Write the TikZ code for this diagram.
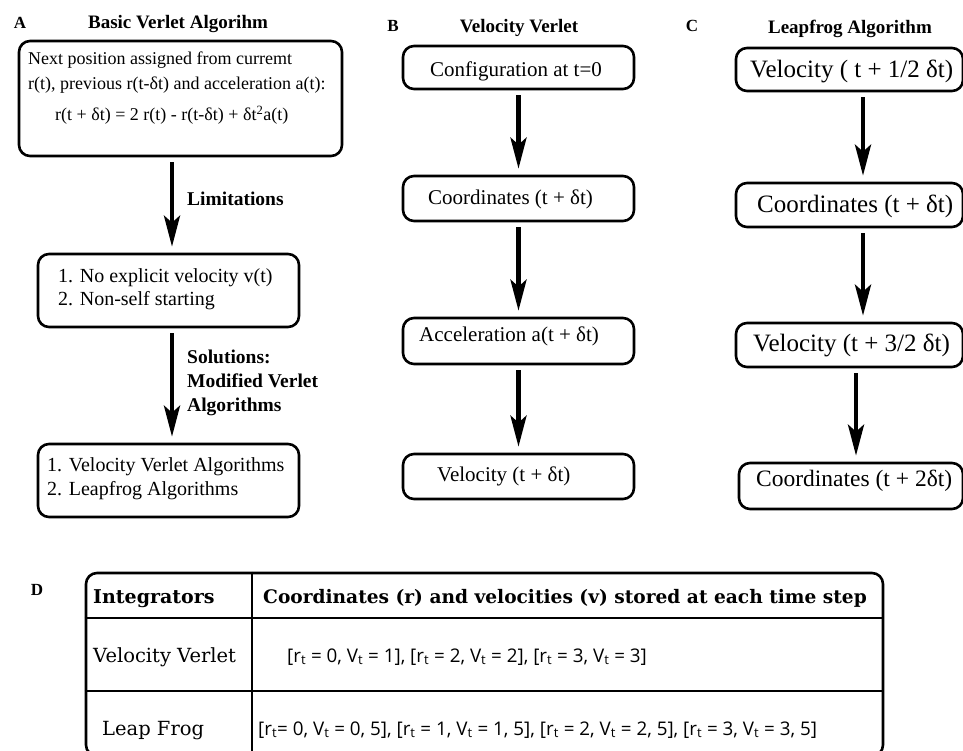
\documentclass[tikz,border=0pt]{standalone}
\usepackage{fontspec}
\setmainfont{Liberation Serif}
\newfontfamily\tabfont{DejaVu Serif}
\newfontfamily\datafont{Open Sans}
\usetikzlibrary{arrows.meta}
\newcommand\fsz[1]{\fontsize{#1}{#1}\selectfont}
\newcommand\rsub{r\textsubscript{t}}
\newcommand\vsub{V\textsubscript{t}}

\begin{document}
\begin{tikzpicture}[x=1pt,y=-1pt,
        box/.style={draw,line width=2.6pt,rounded corners=11pt,inner sep=0pt},
        flow/.style={line width=4.5pt,-{Stealth[length=31pt,width=16pt,inset=7pt]},shorten <=5pt,shorten >=6pt},
        txt/.style={anchor=base west,inner sep=0pt},
        ttl/.style={anchor=base,inner sep=0pt,font=\bfseries\fsz{19}},
        tag/.style={anchor=base,inner sep=0pt,font=\bfseries\fsz{17}}]
            \useasboundingbox (0,0) rectangle (963,751);
            \clip (0,0) rectangle (963,751);

            % panel labels and titles
            \node[tag] (tagA) at (20,29) {A};
            \node[tag] (tagB) at (393,32) {B};
            \node[tag] (tagC) at (692,32) {C};
            \node[tag] (tagD) at (37,595) {D};
            \node[ttl] (ttlA) at (178,29) {Basic Verlet Algorihm};
            \node[ttl] (ttlB) at (519,33) {Velocity Verlet};
            \node[ttl] (ttlC) at (850,34) {Leapfrog Algorithm};

            % A
            \node[box,minimum width=323pt,minimum height=115pt] (a1) at (180.5,98.5) {};
            \node[txt,font=\fsz{18}] (a1l1) at (28,65) {Next position assigned from curremt};
            \node[txt,font=\fsz{18}] (a1l2) at (28,90) {r(t), previous r(t-δt) and acceleration a(t):};
            \node[txt,font=\fsz{18}] (a1l3) at (55,121) {r(t + δt) = 2 r(t) - r(t-δt) + δt\textsuperscript{2}a(t)};
            \node[box,minimum width=261pt,minimum height=73pt] (a2) at (168.5,290.5) {};
            \node[txt,font=\fsz{20}] (a2l1) at (58,282) {1. No explicit velocity v(t)};
            \node[txt,font=\fsz{20}] (a2l2) at (58,305) {2. Non-self starting};
            \node[box,minimum width=261pt,minimum height=73pt] (a3) at (168.5,480.5) {};
            \node[txt,font=\fsz{20}] (a3l1) at (47,471) {1. Velocity Verlet Algorithms};
            \node[txt,font=\fsz{20}] (a3l2) at (47,495) {2. Leapfrog Algorithms};

            \draw[flow] (a1.south -| 172,0) -- (a2.north -| 172,0);
            \draw[flow] (a2.south -| 172,0) -- (a3.north -| 172,0);
            \node[txt,font=\bfseries\fsz{19.5}] (lim) at (187,206) {Limitations};
            \node[txt,font=\bfseries\fsz{19.5}] (sol1) at (187,363) {Solutions:};
            \node[txt,font=\bfseries\fsz{19.5}] (sol2) at (187,387) {Modified Verlet};
            \node[txt,font=\bfseries\fsz{19.5}] (sol3) at (187,411) {Algorithms};

            % B
            \node[box,minimum width=231pt,minimum height=43pt] (b1) at (518.5,67.5) {};
            \node[box,minimum width=231pt,minimum height=45pt] (b2) at (518.5,198.5) {};
            \node[box,minimum width=231pt,minimum height=46pt] (b3) at (518.5,341) {};
            \node[box,minimum width=231pt,minimum height=45pt] (b4) at (518.5,476.5) {};
            \node[txt,font=\fsz{21}] (b1t) at (430,77) {Configuration at t=0};
            \node[txt,font=\fsz{21}] (b2t) at (428,205) {Coordinates (t + δt)};
            \node[txt,font=\fsz{21}] (b3t) at (419,341.5) {Acceleration a(t + δt)};
            \node[txt,font=\fsz{21}] (b4t) at (437,481.5) {Velocity (t + δt)};
            \foreach \u/\v in {b1/b2,b2/b3,b3/b4}
                \draw[flow] (\u.south) -- (\v.north);

            % C
            \node[box,minimum width=227pt,minimum height=43pt] (c1) at (849.5,69.5) {};
            \node[box,minimum width=227pt,minimum height=44pt] (c2) at (849.5,205) {};
            \node[box,minimum width=227pt,minimum height=44pt] (c3) at (849.5,345) {};
            \node[box,minimum width=224pt,minimum height=46pt] (c4) at (851,486) {};
            \node[txt,font=\fsz{25}] (c1t) at (750,78) {Velocity ( t + 1/2 δt)};
            \node[txt,font=\fsz{25}] (c2t) at (757,213) {Coordinates (t + δt)};
            \node[txt,font=\fsz{25}] (c3t) at (753,351.5) {Velocity (t + 3/2 δt)};
            \node[txt,font=\fsz{23.5}] (c4t) at (756,486.5) {Coordinates (t + 2δt)};
            \foreach \u/\v/\x in {c1/c2/863,c2/c3/863,c3/c4/856}
                \draw[flow] (\u.south -| \x,0) -- (\v.north -| \x,0);

            % D
            \node[box,minimum width=797pt,minimum height=183pt] (tab) at (484.5,664.5) {};
            \draw[line width=2.6pt] (tab.north -| 252,0) -- (tab.south -| 252,0);
            \draw[line width=2.6pt] (tab.west |- 0,618) -- (tab.east |- 0,618);
            \draw[line width=2.6pt] (tab.west |- 0,691) -- (tab.east |- 0,691);
            \node[txt,font=\tabfont\bfseries\fsz{19}] (hd1) at (93,603) {Integrators};
            \node[txt,font=\tabfont\bfseries\fsz{18.6}] (hd2) at (263,603) {Coordinates (r) and velocities (v) stored at each time step};
            \node[txt,font=\tabfont\fsz{19.5}] (rw1) at (93,662) {Velocity Verlet};
            \node[txt,font=\tabfont\fsz{19.5}] (rw2) at (102,735) {Leap Frog};
            \node[txt,font=\datafont\fsz{18.8}] (dt1) at (287,662) {[\rsub{} = 0, \vsub{} = 1], [\rsub{} = 2, \vsub{} = 2], [\rsub{} = 3, \vsub{} = 3]};
            \node[txt,font=\datafont\fsz{18.8}] (dt2) at (258,735) {[\rsub{}= 0, \vsub{} = 0, 5], [\rsub{} = 1, \vsub{} = 1, 5], [\rsub{} = 2, \vsub{} = 2, 5], [\rsub{} = 3, \vsub{} = 3, 5]};
        \end{tikzpicture}
\end{document}
